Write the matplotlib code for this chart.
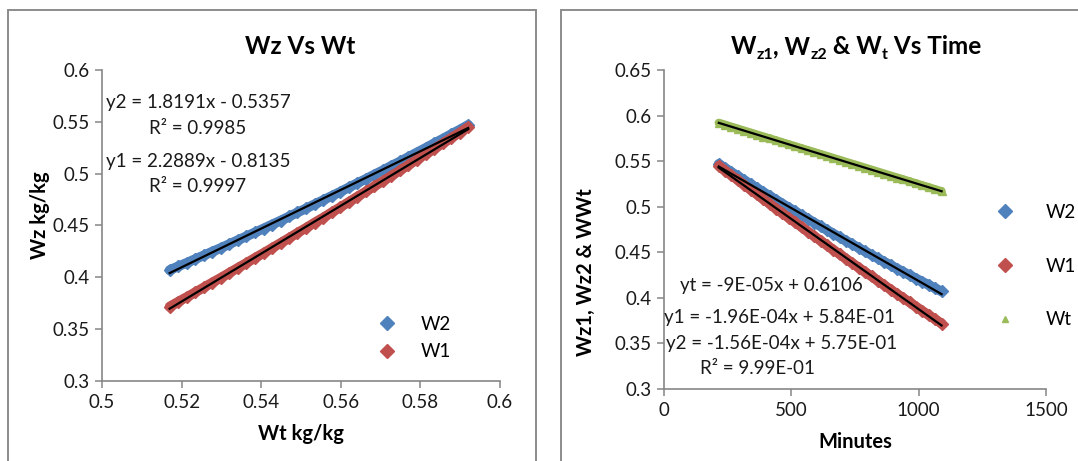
import numpy as np
import matplotlib
matplotlib.use("Agg")
import matplotlib.pyplot as plt
from matplotlib.lines import Line2D
from matplotlib.patches import Rectangle

# ---------------- data ----------------
minutes = [215, 240, 265, 290, 315, 340, 365, 390, 415, 440, 465, 490,
           515, 540, 565, 590, 615, 640, 665, 690, 715, 740, 765, 790,
           815, 840, 865, 890, 915, 940, 965, 990, 1015, 1040, 1065, 1090]
wt = [0.5920, 0.5899, 0.5877, 0.5856, 0.5834, 0.5813, 0.5791, 0.5770, 0.5749,
      0.5727, 0.5706, 0.5684, 0.5663, 0.5641, 0.5620, 0.5599, 0.5577, 0.5556,
      0.5534, 0.5513, 0.5491, 0.5470, 0.5449, 0.5427, 0.5406, 0.5384, 0.5363,
      0.5341, 0.5320, 0.5299, 0.5277, 0.5256, 0.5234, 0.5213, 0.5191, 0.5170]
w2 = [0.5470, 0.5425, 0.5380, 0.5336, 0.5292, 0.5248, 0.5204, 0.5161, 0.5118,
      0.5076, 0.5033, 0.4991, 0.4949, 0.4908, 0.4867, 0.4826, 0.4785, 0.4745,
      0.4705, 0.4665, 0.4626, 0.4587, 0.4548, 0.4509, 0.4471, 0.4433, 0.4396,
      0.4358, 0.4321, 0.4284, 0.4248, 0.4212, 0.4176, 0.4140, 0.4105, 0.4070]
w1 = [0.5450, 0.5397, 0.5344, 0.5292, 0.5239, 0.5187, 0.5135, 0.5083, 0.5032,
      0.4980, 0.4929, 0.4878, 0.4828, 0.4777, 0.4727, 0.4677, 0.4627, 0.4577,
      0.4528, 0.4478, 0.4429, 0.4380, 0.4332, 0.4283, 0.4235, 0.4187, 0.4139,
      0.4091, 0.4044, 0.3997, 0.3950, 0.3903, 0.3856, 0.3810, 0.3764, 0.3718]

left_xticks = [0.5, 0.52, 0.54, 0.56, 0.58, 0.6]
left_yticks = [0.3, 0.35, 0.4, 0.45, 0.5, 0.55, 0.6]
right_xticks = [0, 500, 1000, 1500]
right_yticks = [0.3, 0.35, 0.4, 0.45, 0.5, 0.55, 0.6, 0.65]

eq_left = ["y2 = 1.8191x - 0.5357", "R² = 0.9985",
           "y1 = 2.2889x - 0.8135", "R² = 0.9997"]
eq_right = ["yt = -9E-05x + 0.6106", "y1 = -1.96E-04x + 5.84E-01",
            "y2 = -1.56E-04x + 5.75E-01", "R² = 9.99E-01"]

title_left = "Wz Vs Wt"
# right title pieces: (text, is_subscript)
title_right = [("W", False), ("z1", True), (", W", False), ("z2", True),
               (" & W", False), ("t", True), (" Vs Time", False)]

# ---------------- style ----------------
FONT = "Lato"
plt.rcParams["font.family"] = [FONT, "DejaVu Sans"]
plt.rcParams["text.parse_math"] = False

BLUE = "#4F81BD"
RED = "#C0504D"
GREEN = "#9BBB59"
GRAY = "#868686"
TXT = "#1a1a1a"
TICK_FS = 13.5
EQ_FS = 13.5
LAB_FS = 14.5
TITLE_FS = 17.5
W, H = 1078, 461

fig = plt.figure(figsize=(W / 100, H / 100), dpi=100)


def fx(px):
    return px / W


def fy(py):
    return 1 - py / H


# panel borders
fig.patches.append(Rectangle((fx(8), fy(470)), fx(536 - 8), fy(10) - fy(470),
                             transform=fig.transFigure, fill=False,
                             edgecolor="#8c8c8c", lw=1.4))
fig.patches.append(Rectangle((fx(561), fy(470)), fx(1090 - 561), fy(10) - fy(470),
                             transform=fig.transFigure, fill=False,
                             edgecolor="#8c8c8c", lw=1.4))


def style_axes(ax):
    for s in ("top", "right"):
        ax.spines[s].set_visible(False)
    for s in ("left", "bottom"):
        ax.spines[s].set_color(GRAY)
        ax.spines[s].set_linewidth(1.2)
    ax.tick_params(direction="out", length=5, width=1.1, color=GRAY,
                   labelsize=TICK_FS, labelcolor=TXT, pad=4)


def band(ax, x, y, color, marker="D", lw=7.0, ms=6.5):
    ax.plot(x, y, "-", color=color, lw=lw, solid_capstyle="round", zorder=2)
    ax.plot(x, y, marker, color=color, ms=ms, mec=color, ls="none", zorder=2)


def trend(ax, x, y):
    c = np.polyfit(x, y, 1)
    xx = np.array([min(x), max(x)])
    ax.plot(xx, np.polyval(c, xx), color="black", lw=1.6, zorder=3)


# ---------------- left chart ----------------
axL = fig.add_axes([fx(102), fy(381), fx(500 - 102), fy(70) - fy(381)])
style_axes(axL)
band(axL, wt, w2, BLUE)
band(axL, wt, w1, RED)
trend(axL, wt, w2)
trend(axL, wt, w1)
axL.set_xlim(0.5, 0.6)
axL.set_ylim(0.3, 0.6)
axL.set_xticks(left_xticks)
axL.set_xticklabels([f"{v:g}" for v in left_xticks])
axL.set_yticks(left_yticks)
axL.set_yticklabels([f"{v:g}" for v in left_yticks])
axL.set_xlabel("Wt kg/kg", fontsize=LAB_FS, fontweight="bold", labelpad=10)
axL.set_ylabel("Wz kg/kg", fontsize=LAB_FS, fontweight="bold")
axL.yaxis.set_label_coords((50 - 102) / 398, (381 - 215) / 311)

fig.text(fx(300), fy(54), title_left, fontsize=TITLE_FS, fontweight="bold",
         ha="center", va="baseline")

hL = [Line2D([], [], marker="D", color=BLUE, ls="none", ms=7.5),
      Line2D([], [], marker="D", color=RED, ls="none", ms=7.5)]
fig.legend(hL, ["W2", "W1"], loc="center left",
           bbox_to_anchor=(fx(370), fy(338)), frameon=False,
           fontsize=EQ_FS, labelspacing=0.55, handletextpad=1.3,
           handlelength=1.0, borderaxespad=0)

for txt, cx, cy in zip(eq_left, [198, 198, 198, 198], [102, 128, 162, 187]):
    fig.text(fx(cx), fy(cy), txt, ha="center", va="center", fontsize=EQ_FS,
             color=TXT)

# ---------------- right chart ----------------
axR = fig.add_axes([fx(664), fy(389), fx(1046 - 664), fy(70) - fy(389)])
style_axes(axR)
band(axR, minutes, w2, BLUE)
band(axR, minutes, w1, RED)
band(axR, minutes, wt, GREEN, marker="^", lw=6.0, ms=5.5)
trend(axR, minutes, wt)
trend(axR, minutes, w2)
trend(axR, minutes, w1)
axR.set_xlim(0, 1500)
axR.set_ylim(0.3, 0.65)
axR.set_xticks(right_xticks)
axR.set_xticklabels([str(v) for v in right_xticks])
axR.set_yticks(right_yticks)
axR.set_yticklabels([f"{v:g}" for v in right_yticks])
axR.set_xlabel("Minutes", fontsize=LAB_FS, fontweight="bold", labelpad=10)
axR.set_ylabel("Wz1, Wz2 & WWt", fontsize=LAB_FS, fontweight="bold")
axR.yaxis.set_label_coords((596 - 664) / 382, (389 - 272) / 319)

hR = [Line2D([], [], marker="D", color=BLUE, ls="none", ms=7.5),
      Line2D([], [], marker="D", color=RED, ls="none", ms=7.5),
      Line2D([], [], marker="^", color=GREEN, ls="none", ms=5)]
fig.legend(hR, ["W2", "W1", "Wt"], loc="center left",
           bbox_to_anchor=(fx(988), fy(266)), frameon=False,
           fontsize=EQ_FS, labelspacing=1.95, handletextpad=1.7,
           handlelength=1.0, borderaxespad=0)

for txt, cx, cy in zip(eq_right, [771, 780, 782, 758], [285, 317, 343, 368]):
    fig.text(fx(cx), fy(cy), txt, ha="center", va="center", fontsize=EQ_FS,
             color=TXT)

# right title built from pieces (normal + subscript)
renderer = fig.canvas.get_renderer()
texts = []
for s, sub in title_right:
    t = fig.text(0, fy(54 + (5 if sub else 0)), s,
                 fontsize=(11.5 if sub else TITLE_FS),
                 fontweight="bold", ha="left", va="baseline")
    texts.append(t)
widths = [t.get_window_extent(renderer).width for t in texts]
x0 = 856 - sum(widths) / 2
for t, w_ in zip(texts, widths):
    t.set_x(fx(x0))
    x0 += w_

fig.savefig("out.png", dpi=100)
